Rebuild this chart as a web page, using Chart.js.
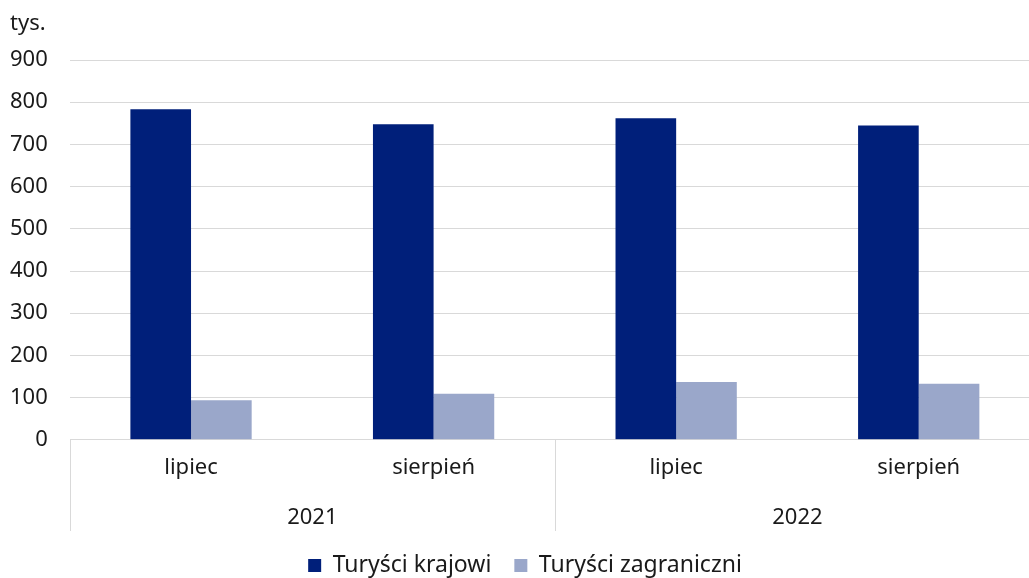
<!DOCTYPE html>
<html>
<head>
<meta charset="utf-8">
<script src="https://cdn.jsdelivr.net/npm/chart.js@4"></script>
<style>
html,body{margin:0;padding:0;background:#fff;overflow:hidden;}
#wrap{width:1029px;height:578px;position:relative;overflow:hidden;}
canvas{display:block;}
</style>
</head>
<body>
<div id="wrap"><canvas id="c" width="1040" height="578"></canvas></div>
<script>
const months = ['lipiec', 'sierpień', 'lipiec', 'sierpień'];
const years = ['2021', '2022'];
const domestic = [783, 748, 762, 745];
const foreign = [94, 109, 137, 133];
const yTicks = [0, 100, 200, 300, 400, 500, 600, 700, 800, 900];
const seriesNames = ['Turyści krajowi', 'Turyści zagraniczni'];
const unitLabel = 'tys.';

const FONT = '"Noto Sans", sans-serif';
const TXT = '#1a1a1a';
const GRID = '#d9d9d9';
const FS = 22;

const separators = {
  id: 'separators',
  afterDraw(chart) {
    const x = chart.scales.x;
    const x2 = chart.scales.x2;
    const ctx = chart.ctx;
    const n = months.length;
    const per = n / years.length;
    const top = x.top;
    const bottom = x2.bottom;
    ctx.save();
    ctx.strokeStyle = GRID;
    ctx.lineWidth = 1;
    for (let g = 0; g < years.length; g++) {
      const i = g * per;
      const px = i === 0 ? x.left : (x.getPixelForValue(i - 1) + x.getPixelForValue(i)) / 2;
      ctx.beginPath();
      ctx.moveTo(Math.round(px) + 0.5, top);
      ctx.lineTo(Math.round(px) + 0.5, bottom);
      ctx.stroke();
    }
    ctx.restore();
  }
};

new Chart(document.getElementById('c'), {
  type: 'bar',
  data: {
    labels: months,
    datasets: [
      { label: seriesNames[0], data: domestic, backgroundColor: '#001F7A', xAxisID: 'x' },
      { label: seriesNames[1], data: foreign, backgroundColor: '#9AA7CA', xAxisID: 'x' }
    ]
  },
  options: {
    responsive: false,
    animation: false,
    devicePixelRatio: 1,
    layout: { padding: { left: 10, right: 0, top: 0, bottom: -9 } },
    datasets: { bar: { barPercentage: 1, categoryPercentage: 0.5 } },
    plugins: {
      title: {
        display: true, text: unitLabel, align: 'start',
        color: TXT, font: { family: FONT, size: FS, weight: 'normal' },
        padding: { top: 11, bottom: 22.6 }
      },
      legend: {
        position: 'bottom',
        labels: {
          color: TXT, font: { family: FONT, size: 23 },
          boxWidth: 13, boxHeight: 13, padding: 23
        }
      },
      tooltip: { enabled: false }
    },
    scales: {
      y: {
        min: 0, max: 900,
        afterBuildTicks: (s) => { s.ticks = yTicks.map(v => ({ value: v })); },
        ticks: { color: TXT, font: { family: FONT, size: FS }, padding: 0 },
        grid: { color: GRID, lineWidth: 1, drawTicks: true, tickLength: 22, tickColor: 'rgba(0,0,0,0)' },
        border: { display: false }
      },
      x: {
        position: 'bottom',
        ticks: { color: TXT, font: { family: FONT, size: FS }, padding: 0, maxRotation: 0 },
        grid: { display: false, drawTicks: true, tickLength: 15 },
        border: { display: false }
      },
      x2: {
        type: 'category',
        labels: years,
        position: 'bottom',
        offset: true,
        ticks: { color: TXT, font: { family: FONT, size: FS }, padding: 0, maxRotation: 0 },
        grid: { display: false, drawTicks: true, tickLength: 23.4 },
        border: { display: false }
      }
    }
  },
  plugins: [separators]
});
</script>
</body>
</html>
